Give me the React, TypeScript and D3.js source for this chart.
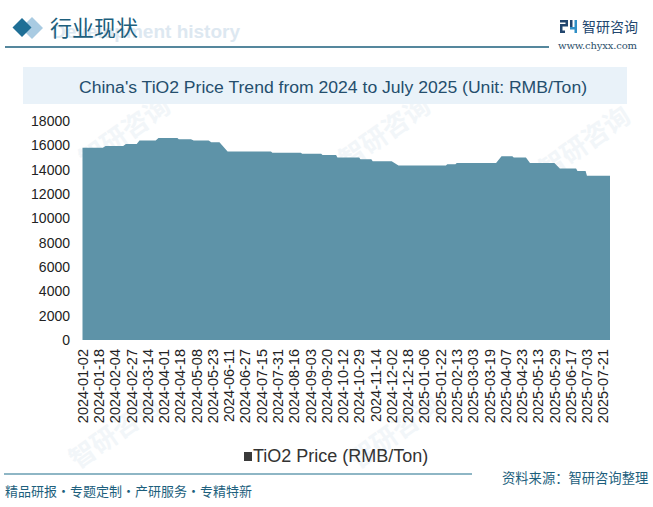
import { useEffect } from 'react'
import * as d3 from 'd3'

// x axis labels, one every 12 trading days
const tickLabels = [
  '2024-01-02', '2024-01-18', '2024-02-04', '2024-02-27', '2024-03-14', '2024-04-01',
  '2024-04-18', '2024-05-08', '2024-05-23', '2024-06-11', '2024-06-27', '2024-07-15',
  '2024-07-31', '2024-08-16', '2024-09-03', '2024-09-20', '2024-10-12', '2024-10-29',
  '2024-11-14', '2024-12-02', '2024-12-18', '2025-01-06', '2025-01-22', '2025-02-13',
  '2025-03-03', '2025-03-19', '2025-04-07', '2025-04-23', '2025-05-13', '2025-05-29',
  '2025-06-17', '2025-07-03', '2025-07-21',
]
const labelEvery = 12
const lastDay = 389

// price plateaus: [first trading day, last trading day, price]
const priceSegments: [number, number, number][] = [
  [0, 15, 15800],
  [17, 30, 15950],
  [32, 40, 16100],
  [42, 54, 16400],
  [56, 70, 16600],
  [71, 80, 16500],
  [82, 93, 16400],
  [95, 101, 16250],
  [107, 139, 15500],
  [140, 161, 15400],
  [162, 176, 15300],
  [177, 187, 15200],
  [188, 204, 15000],
  [205, 213, 14850],
  [214, 228, 14700],
  [233, 268, 14350],
  [269, 275, 14450],
  [276, 305, 14550],
  [309, 317, 15100],
  [318, 327, 15000],
  [330, 348, 14550],
  [352, 364, 14100],
  [365, 371, 13900],
  [372, 389, 13500],
]

const yTicks = [0, 2000, 4000, 6000, 8000, 10000, 12000, 14000, 16000, 18000]

const W = 653
const H = 507
const dark = '#1d5f7d'
const areaColor = '#5e93a8'

export default function App() {
  useEffect(() => {
    document.body.style.margin = '0'
  }, [])

  const x = d3.scaleLinear().domain([0, lastDay]).range([82.5, 610])
  const y = d3.scaleLinear().domain([0, 18000]).range([340, 121])

  const points: [number, number][] = priceSegments.flatMap(([a, b, p]) => [
    [a, p],
    [b, p],
  ])

  const area = d3
    .area<[number, number]>()
    .x(d => x(d[0]))
    .y0(y(0))
    .y1(d => y(d[1]))

  const watermarks = [
    [130, 140], [390, 140], [590, 150], [250, 270], [520, 280], [120, 440], [400, 440],
  ]

  return (
    <svg width={W} height={H} style={{ display: 'block' }} fontFamily="Arial, 'Liberation Sans', sans-serif">
      <rect width={W} height={H} fill="#fff" />

      {/* faint watermarks */}
      {watermarks.map(([wx, wy], i) => (
        <text
          key={i}
          x={wx}
          y={wy}
          transform={`rotate(-35 ${wx} ${wy})`}
          fontSize={26}
          fontWeight="bold"
          fontFamily="'Noto Sans CJK SC', sans-serif"
          fill="#f2f6f9"
          textAnchor="middle"
        >
          智研咨询
        </text>
      ))}

      {/* header */}
      <text x={240} y={38} fontSize={19} fontWeight="bold" fill="#dde8f1" textAnchor="end">Development history</text>
      <path d="M32,17 L43,28 L32,39 L21,28 Z" fill="#a9cbe2" />
      <path d="M22,18 L31.5,27.5 L22,37 L12.5,27.5 Z" fill="#1f6f96" />
      <text x={50} y={36} fontSize={22} fontFamily="'Noto Sans CJK SC', sans-serif" fill={dark}>行业现状</text>
      <line x1={5} x2={549} y1={47} y2={47} stroke={dark} strokeWidth={1.5} />

      {/* logo */}
      <g fill="#22466e">
        <rect x={560} y={20} width={8} height={2.5} />
        <rect x={565.5} y={20} width={2.5} height={6} />
        <rect x={560} y={24} width={8} height={2.5} />
        <rect x={560} y={24} width={2.5} height={9} />
        <rect x={560} y={30.5} width={5} height={2.5} />
        <rect x={570} y={20} width={2.5} height={9} />
        <rect x={570} y={27} width={7} height={2.5} fill="#2f8fc6" />
        <rect x={574.5} y={20} width={2.5} height={13} fill="#2f8fc6" />
      </g>
      <text x={582} y={32} fontSize={14} fontFamily="'Noto Sans CJK SC', sans-serif" fill="#22466e">智研咨询</text>
      <text x={558} y={48.5} fontSize={10} fontFamily="'DejaVu Serif', serif" fill="#2b4f6a" textLength={79}>www.chyxx.com</text>

      {/* title box */}
      <rect x={23} y={67} width={604} height={37} fill="#e9f2f9" />
      <text x={333} y={93} fontSize={16} textAnchor="middle" fill="#244e6d" textLength={508} lengthAdjust="spacingAndGlyphs">
        China's TiO2 Price Trend from 2024 to July 2025 (Unit: RMB/Ton)
      </text>

      {/* area */}
      <path d={area(points) ?? ''} fill={areaColor} />

      {/* y axis */}
      {yTicks.map(t => (
        <text key={t} x={70} y={y(t)} dy="0.35em" fontSize={14} textAnchor="end" fill="#222">
          {t}
        </text>
      ))}

      {/* x axis */}
      {tickLabels.map((lab, i) => {
        const tx = x(i * labelEvery)
        return (
          <text
            key={lab}
            transform={`translate(${tx},349) rotate(-90)`}
            dy="0.36em"
            fontSize={14.5}
            textAnchor="end"
            fill="#222"
          >
            {lab}
          </text>
        )
      })}

      {/* legend */}
      <rect x={244} y={452} width={8} height={9} fill="#3a3a3a" />
      <text x={253} y={462} fontSize={18} fill="#333">TiO2 Price (RMB/Ton)</text>

      {/* footer */}
      <line x1={4} x2={472} y1={474} y2={474} stroke="#1f6e8c" strokeWidth={1.2} />
      <text x={5} y={496} fontSize={13} fontFamily="'Noto Sans CJK SC', sans-serif" fill={dark}>
        精品研报・专题定制・产研服务・专精特新
      </text>
      <text x={502} y={483} fontSize={13.3} fontFamily="'Noto Sans CJK SC', sans-serif" fill={dark}>
        资料来源：智研咨询整理
      </text>
    </svg>
  )
}
